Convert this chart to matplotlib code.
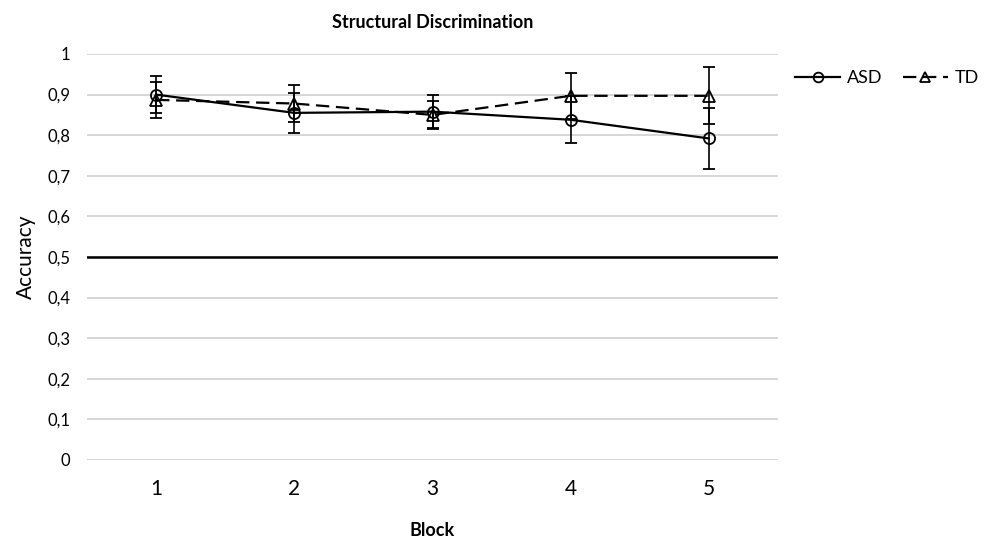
import matplotlib
matplotlib.use("Agg")
from matplotlib import pyplot as plt
from matplotlib.lines import Line2D
from matplotlib.ticker import FuncFormatter

plt.rcParams['font.family'] = ['Lato', 'DejaVu Sans']

blocks = [1, 2, 3, 4, 5]
asd_mean = [0.900, 0.855, 0.858, 0.838, 0.792]
asd_err = [0.045, 0.050, 0.040, 0.058, 0.075]
td_mean = [0.887, 0.878, 0.850, 0.897, 0.897]
td_err = [0.045, 0.046, 0.035, 0.057, 0.070]
chance = 0.5

fig = plt.figure(figsize=(9.88, 5.37), dpi=100)
ax = fig.add_axes([87 / 988, 1 - 460 / 537, (778 - 87) / 988, (460 - 54) / 537])

td_dash = (0, (6, 3))
ax.errorbar(blocks, asd_mean, yerr=asd_err, color="black", lw=1.6, ls="-",
            marker="o", ms=8, mfc="none", mew=1.3, capsize=4, elinewidth=1.2,
            capthick=1.2, zorder=3)
ax.errorbar(blocks, td_mean, yerr=td_err, color="black", lw=1.6, ls=td_dash,
            marker="^", ms=8, mfc="none", mew=1.3, capsize=4, elinewidth=1.2,
            capthick=1.2, zorder=3)
ax.axhline(chance, color="black", lw=1.8, zorder=2)

ax.set_xlim(0.5, 5.5)
ax.set_ylim(0, 1)
ax.set_yticks([i / 10 for i in range(11)])
ax.set_xticks(blocks)
ax.yaxis.set_major_formatter(FuncFormatter(lambda v, p: ("%g" % round(v, 1)).replace(".", ",")))
ax.grid(axis="y", color="#d0d0d0", lw=1.2, zorder=0)
ax.set_axisbelow(True)
for s in ax.spines.values():
    s.set_visible(False)
ax.tick_params(length=0)
ax.tick_params(axis="y", labelsize=12, pad=12)
ax.tick_params(axis="x", labelsize=15, pad=14)

ax.set_title("Structural Discrimination", fontsize=13, fontweight="bold", pad=19)
ax.set_xlabel("Block", fontsize=13, fontweight="bold", labelpad=16)
ax.set_ylabel("Accuracy", fontsize=15, labelpad=8)

handles = [
    Line2D([], [], color="black", lw=1.6, ls="-", marker="o", ms=7, mfc="none", mew=1.3),
    Line2D([], [], color="black", lw=1.6, ls=td_dash, marker="^", ms=7, mfc="none", mew=1.3),
]
ax.legend(handles, ["ASD", "TD"], loc="center left",
          bbox_to_anchor=((795 - 87) / 691, (460 - 78) / 406), frameon=False, ncol=2,
          fontsize=13, handlelength=2.5, columnspacing=1.1, handletextpad=0.4,
          borderaxespad=0, borderpad=0)

fig.savefig("out.png", dpi=100)
